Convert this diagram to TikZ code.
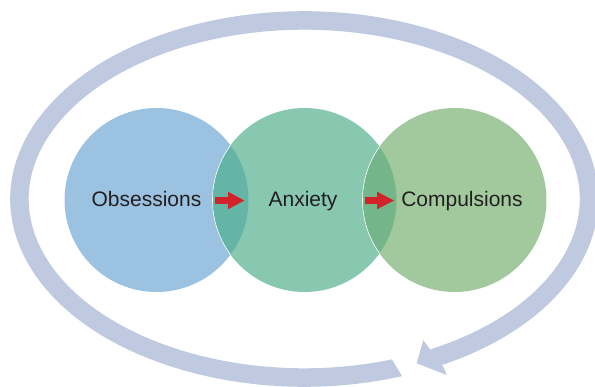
\documentclass[tikz,border=0pt]{standalone}
\usepackage{fontspec}
\setmainfont{Liberation Sans}
\definecolor{ringc}{HTML}{BFCAE1}
\definecolor{obsc}{HTML}{9BC2E1}
\definecolor{anxc}{HTML}{88C7B0}
\definecolor{compc}{HTML}{A1C99D}
\definecolor{lensa}{HTML}{64B5A6}
\definecolor{lensb}{HTML}{74B68A}
\definecolor{redc}{HTML}{D2232A}
\definecolor{txtc}{HTML}{231F20}
\begin{document}
\begin{tikzpicture}[x=1pt,y=1pt,
  bubble/.style={circle,minimum size=184pt,inner sep=0pt,draw=none},
  label/.style={anchor=base,inner sep=0pt,text=txtc,font=\fontsize{21}{25}\selectfont},
  ring/.style={draw=ringc,line width=18.5pt},
  redarrow/.style={fill=redc}]
\useasboundingbox (0,0) rectangle (595,386);
% cycle ring
\coordinate (rc) at (304.25,187);
\coordinate (rstart) at ([shift={(291:284.75pt and 178.5pt)}]rc);
\begin{scope}[even odd rule]
  \clip (-50,-50) rectangle (650,450)
    (371.8,60) -- (412,60) -- (412,-10) -- (414,-10) -- cycle;
  \draw[ring] (rstart) arc[start angle=291, end angle=-63, x radius=284.75pt, y radius=178.5pt] coordinate (rend);
\end{scope}
\coordinate (tip) at (416.7,22.7);
\fill[ringc] (tip) -- (423.3,46) -- (431.7,34.3) -- (rend) -- (443.3,19.3) -- (446.7,11) -- cycle;
% circles
\node[bubble,fill=obsc] (cobs) at (156.5,186) {};
\node[bubble,fill=anxc] (canx) at (304.5,186) {};
\node[bubble,fill=compc] (ccomp) at (454.5,186) {};
\begin{scope}
  \clip (cobs.center) circle (92pt);
  \fill[lensa] (canx.center) circle (92pt);
  \draw[white,line width=0.6pt] (canx.center) circle (92pt);
\end{scope}
\begin{scope}
  \clip (canx.center) circle (92pt);
  \fill[lensb] (ccomp.center) circle (92pt);
  \draw[white,line width=0.6pt] (ccomp.center) circle (92pt);
\end{scope}
% labels
\node[label] (obs) at (146.5,179.5) {Obsessions};
\node[label] (anx) at (303,179.5) {Anxiety};
\node[label] (comp) at (462,179.5) {Compulsions};
% red arrows
\coordinate (a1) at (215,185.5);
\coordinate (a2) at (365,185.5);
\fill[redarrow] ([shift={(0,3.3)}]a1) -- ++(13,0) -- ++(0,5.5) -- ++(16.3,-8.8) -- ++(-16.3,-8.8) -- ++(0,5.5) -- ++(-13,0) -- cycle;
\fill[redarrow] ([shift={(0,3.3)}]a2) -- ++(12,0) -- ++(0,5.5) -- ++(17,-8.8) -- ++(-17,-8.8) -- ++(0,5.5) -- ++(-12,0) -- cycle;
\end{tikzpicture}
\end{document}
